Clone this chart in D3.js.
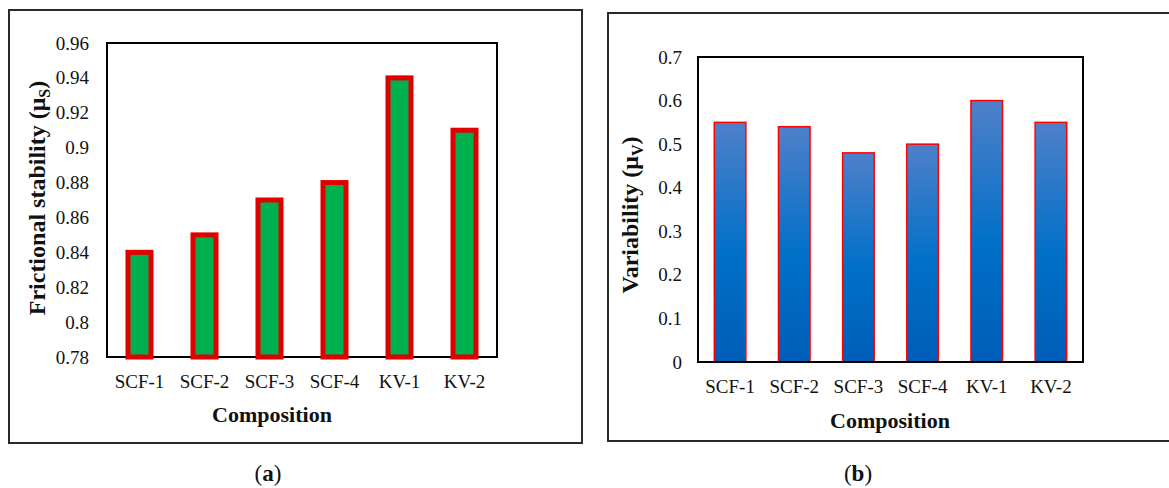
<!DOCTYPE html>
<html>
<head>
<meta charset="utf-8">
<script src="https://cdn.jsdelivr.net/npm/d3@7"></script>
<style>
  html, body { margin: 0; padding: 0; background: #fff; }
  svg { display: block; }
  text { font-family: "Liberation Serif", "Times New Roman", serif; fill: #111; }
</style>
</head>
<body>
<svg id="chart" width="1169" height="488"></svg>
<script>
// Compositions shared by both panels
const categories = ["SCF-1", "SCF-2", "SCF-3", "SCF-4", "KV-1", "KV-2"];

// Panel (a): frictional stability
const stabilityValues = [0.84, 0.85, 0.87, 0.88, 0.94, 0.91];
const stabilityTicks = [0.78, 0.80, 0.82, 0.84, 0.86, 0.88, 0.90, 0.92, 0.94, 0.96];
const stabilityTickLabels = ["0.78", "0.8", "0.82", "0.84", "0.86", "0.88", "0.9", "0.92", "0.94", "0.96"];

// Panel (b): variability
const variabilityValues = [0.55, 0.54, 0.48, 0.50, 0.60, 0.55];
const variabilityTicks = [0, 0.1, 0.2, 0.3, 0.4, 0.5, 0.6, 0.7];
const variabilityTickLabels = ["0", "0.1", "0.2", "0.3", "0.4", "0.5", "0.6", "0.7"];

const svg = d3.select("#chart");

// Vertical gradient for the blue bars
const defs = svg.append("defs");
const grad = defs.append("linearGradient")
  .attr("id", "blueGrad").attr("x1", 0).attr("y1", 0).attr("x2", 0).attr("y2", 1);
grad.append("stop").attr("offset", "0%").attr("stop-color", "#4f80c9");
grad.append("stop").attr("offset", "55%").attr("stop-color", "#0070c8");
grad.append("stop").attr("offset", "100%").attr("stop-color", "#005db7");

function drawPanel(opt) {
  const g = svg.append("g");

  // outer frame
  g.append("rect")
    .attr("x", opt.frame[0]).attr("y", opt.frame[1])
    .attr("width", opt.frame[2]).attr("height", opt.frame[3])
    .attr("fill", "none").attr("stroke", "#2a2a2a").attr("stroke-width", 2);

  const x = d3.scaleBand().domain(categories)
    .range([opt.plot.left, opt.plot.right]).padding(0);
  const y = d3.scaleLinear().domain(opt.domain)
    .range([opt.plot.bottom, opt.plot.top]);

  const plotBorder = () => g.append("rect")
    .attr("x", opt.plot.left).attr("y", opt.plot.top)
    .attr("width", opt.plot.right - opt.plot.left)
    .attr("height", opt.plot.bottom - opt.plot.top)
    .attr("fill", "none").attr("stroke", "#000").attr("stroke-width", 2);

  if (opt.borderFirst) plotBorder();

  // bars
  const bw = x.bandwidth() * opt.barFrac;
  g.selectAll("rect.bar").data(opt.values).join("rect")
    .attr("class", "bar")
    .attr("x", (d, i) => x(categories[i]) + x.bandwidth() / 2 - bw / 2)
    .attr("y", d => y(d))
    .attr("width", bw)
    .attr("height", d => y(opt.domain[0]) - y(d))
    .attr("fill", opt.fill)
    .attr("stroke", opt.stroke)
    .attr("stroke-width", opt.strokeWidth);

  if (!opt.borderFirst) plotBorder();

  // y tick labels (no tick marks)
  const yAxis = d3.axisLeft(y)
    .tickValues(opt.ticks)
    .tickFormat((d, i) => opt.tickLabels[i])
    .tickSize(0).tickPadding(0);
  const ya = g.append("g")
    .attr("transform", `translate(${opt.tickLabelX},0)`)
    .call(yAxis);
  ya.select(".domain").remove();
  ya.selectAll("text")
    .attr("font-family", "Liberation Serif, Times New Roman, serif")
    .attr("font-size", 19).attr("fill", "#111");

  // x category labels
  const xAxis = d3.axisBottom(x).tickSize(0).tickPadding(0);
  const xa = g.append("g")
    .attr("transform", `translate(0,${opt.catY})`)
    .call(xAxis);
  xa.select(".domain").remove();
  xa.selectAll("text")
    .attr("font-family", "Liberation Serif, Times New Roman, serif")
    .attr("font-size", 19).attr("fill", "#111").attr("dy", 0);

  // x title
  g.append("text")
    .attr("x", opt.xTitle[0]).attr("y", opt.xTitle[1])
    .attr("text-anchor", "middle")
    .attr("font-size", 22).attr("font-weight", "bold")
    .text("Composition");

  // y title with subscript
  const yt = g.append("text")
    .attr("transform", `translate(${opt.yTitle[0]},${opt.yTitle[1]}) rotate(-90)`)
    .attr("text-anchor", "middle")
    .attr("dy", "0.35em")
    .attr("font-size", 24).attr("font-weight", "bold");
  yt.append("tspan").text(opt.yLabel + " (\u03bc");
  yt.append("tspan").attr("font-size", 16).attr("dy", 5).text(opt.yLabelSub);
  yt.append("tspan").attr("dy", -5).text(")");

  // panel caption
  const cap = g.append("text")
    .attr("x", opt.caption[0]).attr("y", opt.caption[1])
    .attr("text-anchor", "middle")
    .attr("font-size", 23);
  cap.append("tspan").text("(");
  cap.append("tspan").attr("font-weight", "bold").text(opt.captionLetter);
  cap.append("tspan").text(")");
}

drawPanel({
  frame: [9, 10, 573, 433],
  plot: { left: 107, right: 497, top: 43, bottom: 357 },
  domain: [0.78, 0.96],
  values: stabilityValues,
  ticks: stabilityTicks,
  tickLabels: stabilityTickLabels,
  tickLabelX: 89,
  catY: 388,
  barFrac: 23 / 65,
  fill: "#00b04f",
  stroke: "#e00000",
  strokeWidth: 5,
  borderFirst: true,
  xTitle: [272, 422],
  yTitle: [37, 198],
  yLabel: "Frictional stability",
  yLabelSub: "S",
  caption: [268, 481],
  captionLetter: "a"
});

drawPanel({
  frame: [608, 13, 580, 428],
  plot: { left: 698, right: 1083, top: 57, bottom: 362 },
  domain: [0, 0.7],
  values: variabilityValues,
  ticks: variabilityTicks,
  tickLabels: variabilityTickLabels,
  tickLabelX: 682,
  catY: 393,
  barFrac: 31.5 / 64,
  fill: "url(#blueGrad)",
  stroke: "#ff0000",
  strokeWidth: 1.5,
  borderFirst: false,
  xTitle: [890, 428],
  yTitle: [630, 215],
  yLabel: "Variability",
  yLabelSub: "V",
  caption: [858, 481],
  captionLetter: "b"
});
</script>
</body>
</html>
